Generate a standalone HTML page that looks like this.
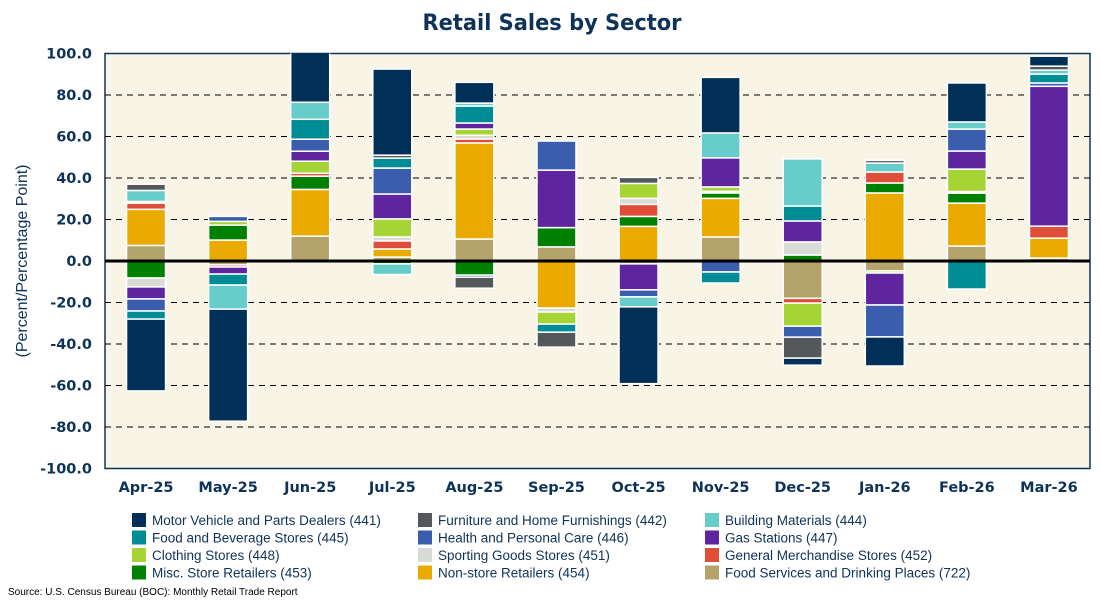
<!DOCTYPE html>
<html><head><meta charset="utf-8"><style>
body{margin:0;background:#fff;}
svg{display:block;}
text{fill:#0e3359;}
</style></head><body>
<svg id="chart" width="1100" height="600" xmlns="http://www.w3.org/2000/svg">
<text x="552" y="30" text-anchor="middle" font-family="DejaVu Sans, sans-serif" font-weight="bold" font-size="22" textLength="259" lengthAdjust="spacingAndGlyphs">Retail Sales by Sector</text>
<rect x="105" y="53.5" width="985" height="415" fill="#f8f5e6" stroke="#0e3359" stroke-width="1.5"/>
<g id="grid"></g>
<g id="bars"></g>
<line id="zero" stroke="#000" stroke-width="3"/>
<g id="yticks"></g>
<g id="xticks"></g>
<text transform="translate(27,261) rotate(-90)" text-anchor="middle" font-family="Liberation Sans, sans-serif" font-size="16">(Percent/Percentage Point)</text>
<g id="legend"></g>
<text x="8" y="595" font-family="Liberation Sans, sans-serif" font-size="10" style="fill:#000">Source: U.S. Census Bureau (BOC): Monthly Retail Trade Report</text>
</svg>
<script>
const months=["Apr-25","May-25","Jun-25","Jul-25","Aug-25","Sep-25","Oct-25","Nov-25","Dec-25","Jan-26","Feb-26","Mar-26"];
const yTicks=[100,80,60,40,20,0,-20,-40,-60,-80,-100];
const seriesNames=["Motor Vehicle and Parts Dealers (441)","Furniture and Home Furnishings (442)","Building Materials (444)","Food and Beverage Stores (445)","Health and Personal Care (446)","Gas Stations (447)","Clothing Stores (448)","Sporting Goods Stores (451)","General Merchandise Stores (452)","Misc. Store Retailers (453)","Non-store Retailers (454)","Food Services and Drinking Places (722)"];
const motor=[-34.6,-54,30,41.5,10,0,-37,26.8,-3.4,-14,18.8,4.8];
const furniture=[3,0,0,1.4,-5.3,-7.2,2.9,0,-10.1,1.3,0,1.9];
const building=[5.3,-11.6,8.2,-5.1,1.4,0,-4.8,12,22.7,4.3,3.4,1.9];
const foodBev=[-3.9,-5.3,9.6,4.8,8.2,-3.9,0,-5.3,7.2,0,-13.5,4.3];
const health=[-5.8,2.4,5.8,12.5,-1,14,-3.4,-5.3,-5.3,-15.4,10.6,1.6];
const gas=[-5.8,-3.4,4.8,12,2.9,27.7,-12.5,14,10.1,-15.4,8.7,67.4];
const clothing=[0.8,1.8,5.8,8.7,3,-5.8,7.2,2.1,-11.1,-1,10.8,0];
const sporting=[-4.3,0,0,1.9,1.8,-1.9,2.9,0.8,6.3,0,0.8,0];
const genMerch=[3,-1,1.4,3.9,1.9,0,5.8,0,-2.3,5.3,0,5.8];
const misc=[-8.2,7.2,6.4,-1.4,-6.8,9.3,4.8,2.6,2.9,4.8,4.8,-1];
const nonStore=[17.4,10.1,22.5,3.9,46.3,-22.7,16.7,18.6,0,32.8,20.7,9.6];
const foodServ=[7.5,-1.9,12,1.9,10.6,6.8,-1.4,11.6,-18,-4.8,7.2,1.4];

const colors=["#003057","#54585a","#66cdca","#008c95","#3a5dae","#5e259f","#a6d435","#d9dcd6","#e04e39","#008000","#eaaa00","#b5a36c"];
const seriesData=[motor,furniture,building,foodBev,health,gas,clothing,sporting,genMerch,misc,nonStore,foodServ];
const NS="http://www.w3.org/2000/svg";
const L=105,R=1090,T=53.5,B=468.5;
const yMin=-100,yMax=100;
function y(v){return B-(v-yMin)/(yMax-yMin)*(B-T);}
const band=(R-L)/months.length;
function xc(i){return L+band*(i+0.5);}
function mk(tag,attrs,parent){const e=document.createElementNS(NS,tag);for(const k in attrs)e.setAttribute(k,attrs[k]);parent.appendChild(e);return e;}
const svg=document.getElementById('chart');
// clip
const defs=mk('defs',{},svg);const cp=mk('clipPath',{id:'clip'},defs);mk('rect',{x:L,y:T,width:R-L,height:B-T},cp);
const grid=document.getElementById('grid');
yTicks.forEach(t=>{
  if(t!==0&&t!==100&&t!==-100){const g=mk('line',{x1:L,x2:R,y1:y(t),y2:y(t),stroke:'#000','stroke-width':1,'stroke-dasharray':'6,5'},grid);
  
  }
  const tx=mk('text',{x:92,y:y(t)+5,'text-anchor':'end','font-family':'DejaVu Sans, sans-serif','font-weight':'bold','font-size':'14.5'},document.getElementById('yticks'));
  tx.textContent=t.toFixed(1);
  
  
});
const bars=document.getElementById('bars');bars.setAttribute('clip-path','url(#clip)');
const bw=39;
months.forEach((m,i)=>{
  let pos=0,neg=0;
  for(let s=seriesData.length-1;s>=0;s--){
    const v=seriesData[s][i];if(!v)continue;
    let y0,y1;
    if(v>0){y0=pos;y1=pos+v;pos=y1;}else{y0=neg;y1=neg+v;neg=y1;}
    const top=y(Math.max(y0,y1)),bot=y(Math.min(y0,y1));
    const r=mk('rect',{x:xc(i)-bw/2,y:top,width:bw,height:bot-top,fill:colors[s],stroke:'#fff','stroke-width':1.5},bars);
    
    
  }
  const tx=mk('text',{x:xc(i),y:492,'text-anchor':'middle','font-family':'DejaVu Sans, sans-serif','font-weight':'bold','font-size':'14.5'},document.getElementById('xticks'));
  tx.textContent=m;
  
  
});
const z=document.getElementById('zero');z.setAttribute('x1',L);z.setAttribute('x2',R);z.setAttribute('y1',y(0));z.setAttribute('y2',y(0));
const lg=document.getElementById('legend');
const colX=[132,418,705],rowY=[520,537.5,555,572.5];
seriesNames.forEach((n,k)=>{
  const c=k%3,r=Math.floor(k/3);
  const g=mk('g',{},lg);
  
  
  mk('rect',{x:colX[c],y:rowY[r]-7,width:14,height:14,fill:colors[k]},g);
  const t=mk('text',{x:colX[c]+20,y:rowY[r]+5,'font-family':'Liberation Sans, sans-serif','font-size':'13.5'},g);
  t.textContent=n;
});
</script>
</body></html>
